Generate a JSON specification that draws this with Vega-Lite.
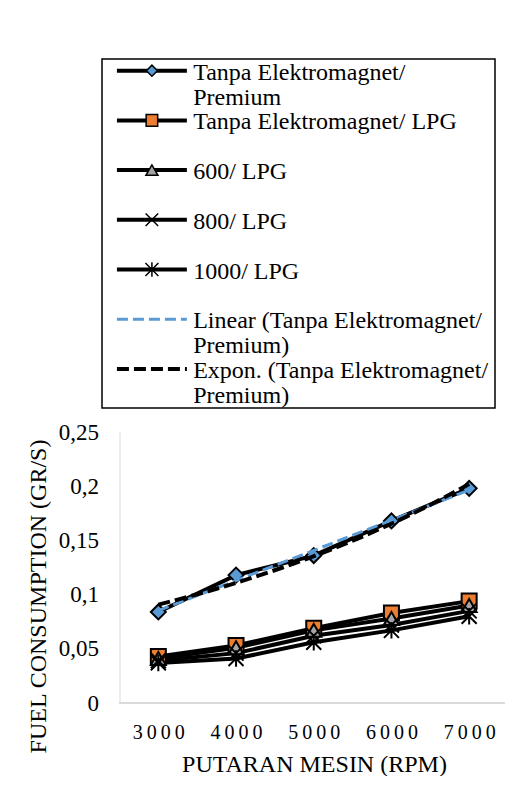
{
  "$schema": "https://vega.github.io/schema/vega-lite/v6.json",
  "background": "white",
  "padding": {"left": 26, "top": 58, "right": 0, "bottom": 0},
  "config": {"font": "Liberation Serif", "view": {"stroke": null}},
  "bounds": "flush",
  "spacing": 24,
  "resolve": {"scale": {"shape": "independent", "fill": "independent", "size": "independent"}},
  "datasets": {
    "fc": [
      {"series": "Tanpa Elektromagnet/ Premium", "rpm": 3000, "fc": 0.084},
      {"series": "Tanpa Elektromagnet/ Premium", "rpm": 4000, "fc": 0.118},
      {"series": "Tanpa Elektromagnet/ Premium", "rpm": 5000, "fc": 0.136},
      {"series": "Tanpa Elektromagnet/ Premium", "rpm": 6000, "fc": 0.168},
      {"series": "Tanpa Elektromagnet/ Premium", "rpm": 7000, "fc": 0.198},
      {"series": "Tanpa Elektromagnet/ LPG", "rpm": 3000, "fc": 0.043},
      {"series": "Tanpa Elektromagnet/ LPG", "rpm": 4000, "fc": 0.053},
      {"series": "Tanpa Elektromagnet/ LPG", "rpm": 5000, "fc": 0.069},
      {"series": "Tanpa Elektromagnet/ LPG", "rpm": 6000, "fc": 0.083},
      {"series": "Tanpa Elektromagnet/ LPG", "rpm": 7000, "fc": 0.094},
      {"series": "600/ LPG", "rpm": 3000, "fc": 0.041},
      {"series": "600/ LPG", "rpm": 4000, "fc": 0.051},
      {"series": "600/ LPG", "rpm": 5000, "fc": 0.067},
      {"series": "600/ LPG", "rpm": 6000, "fc": 0.078},
      {"series": "600/ LPG", "rpm": 7000, "fc": 0.090},
      {"series": "800/ LPG", "rpm": 3000, "fc": 0.039},
      {"series": "800/ LPG", "rpm": 4000, "fc": 0.046},
      {"series": "800/ LPG", "rpm": 5000, "fc": 0.062},
      {"series": "800/ LPG", "rpm": 6000, "fc": 0.072},
      {"series": "800/ LPG", "rpm": 7000, "fc": 0.085},
      {"series": "1000/ LPG", "rpm": 3000, "fc": 0.037},
      {"series": "1000/ LPG", "rpm": 4000, "fc": 0.041},
      {"series": "1000/ LPG", "rpm": 5000, "fc": 0.056},
      {"series": "1000/ LPG", "rpm": 6000, "fc": 0.067},
      {"series": "1000/ LPG", "rpm": 7000, "fc": 0.080}
    ],
    "legend": [
      {"series": "Tanpa Elektromagnet/ Premium", "l1": "Tanpa Elektromagnet/", "l2": "Premium"},
      {"series": "Tanpa Elektromagnet/ LPG", "l1": "Tanpa Elektromagnet/ LPG", "l2": ""},
      {"series": "600/ LPG", "l1": "600/ LPG", "l2": ""},
      {"series": "800/ LPG", "l1": "800/ LPG", "l2": ""},
      {"series": "1000/ LPG", "l1": "1000/ LPG", "l2": ""},
      {"series": "Linear (Tanpa Elektromagnet/ Premium)", "l1": "Linear (Tanpa Elektromagnet/", "l2": "Premium)"},
      {"series": "Expon. (Tanpa Elektromagnet/ Premium)", "l1": "Expon. (Tanpa Elektromagnet/", "l2": "Premium)"}
    ]
  },
  "vconcat": [
    {
      "width": 393,
      "height": 349,
      "view": {"stroke": "black", "strokeWidth": 1.5},
      "data": {"name": "legend"},
      "encoding": {
        "y": {
          "field": "series",
          "type": "nominal",
          "scale": {
            "type": "point",
            "domain": ["Tanpa Elektromagnet/ Premium", "Tanpa Elektromagnet/ LPG", "600/ LPG", "800/ LPG", "1000/ LPG", "Linear (Tanpa Elektromagnet/ Premium)", "Expon. (Tanpa Elektromagnet/ Premium)"],
            "padding": 0.51,
            "align": 0.23
          },
          "axis": null
        }
      },
      "layer": [
        {
          "transform": [{"filter": {"field": "series", "oneOf": ["Tanpa Elektromagnet/ Premium", "Tanpa Elektromagnet/ LPG", "600/ LPG", "800/ LPG", "1000/ LPG"]}}],
          "mark": {"type": "rule", "stroke": "black", "strokeWidth": 4},
          "encoding": {
            "x": {"datum": 3.8, "type": "quantitative", "scale": {"domain": [0, 100]}, "axis": null},
            "x2": {"datum": 21.6}
          }
        },
        {
          "transform": [{"filter": {"field": "series", "equal": "Linear (Tanpa Elektromagnet/ Premium)"}}],
          "mark": {"type": "rule", "stroke": "#5b9bd5", "strokeWidth": 3, "strokeDash": [11, 5]},
          "encoding": {
            "x": {"datum": 3.8, "type": "quantitative"},
            "x2": {"datum": 21.6}
          }
        },
        {
          "transform": [{"filter": {"field": "series", "equal": "Expon. (Tanpa Elektromagnet/ Premium)"}}],
          "mark": {"type": "rule", "stroke": "black", "strokeWidth": 4, "strokeDash": [12, 5]},
          "encoding": {
            "x": {"datum": 3.8, "type": "quantitative"},
            "x2": {"datum": 21.6}
          }
        },
        {
          "transform": [{"filter": {"field": "series", "oneOf": ["Tanpa Elektromagnet/ Premium", "Tanpa Elektromagnet/ LPG", "600/ LPG", "800/ LPG", "1000/ LPG"]}}],
          "mark": {"type": "point", "filled": true, "stroke": "black", "strokeWidth": 1.5, "opacity": 1},
          "encoding": {
            "x": {"datum": 12.7, "type": "quantitative"},
            "shape": {"field": "series", "type": "nominal", "scale": {"domain": ["Tanpa Elektromagnet/ Premium", "Tanpa Elektromagnet/ LPG", "600/ LPG", "800/ LPG", "1000/ LPG"], "range": ["diamond", "square", "triangle-up", "M-1,-1L1,1M-1,1L1,-1", "M-1,-1L1,1M-1,1L1,-1M0,-1.1L0,1.1"]}, "legend": null},
            "fill": {"field": "series", "type": "nominal", "scale": {"domain": ["Tanpa Elektromagnet/ Premium", "Tanpa Elektromagnet/ LPG", "600/ LPG", "800/ LPG", "1000/ LPG"], "range": ["#5b9bd5", "#ed7d31", "#a5a5a5", "black", "black"]}, "legend": null},
            "size": {"field": "series", "type": "ordinal", "scale": {"domain": ["Tanpa Elektromagnet/ Premium", "Tanpa Elektromagnet/ LPG", "600/ LPG", "800/ LPG", "1000/ LPG"], "range": [121, 169, 196, 144, 144]}, "legend": null}
          }
        },
        {
          "mark": {"type": "text", "align": "left", "baseline": "alphabetic", "dy": 9, "fontSize": 24, "color": "black"},
          "encoding": {
            "x": {"datum": 23.2, "type": "quantitative"},
            "text": {"field": "l1"}
          }
        },
        {
          "transform": [{"filter": "datum.l2 != ''"}],
          "mark": {"type": "text", "align": "left", "baseline": "alphabetic", "dy": 34, "fontSize": 24, "color": "black"},
          "encoding": {
            "x": {"datum": 23.2, "type": "quantitative"},
            "text": {"field": "l2"}
          }
        }
      ]
    },
    {
      "width": 406,
      "height": 271,
      "data": {"name": "fc"},
      "encoding": {
        "x": {
          "field": "rpm",
          "type": "quantitative",
          "scale": {"domain": [2275, 7500], "nice": false, "zero": false},
          "axis": {
            "values": [3000, 4000, 5000, 6000, 7000],
            "format": "d",
            "labelExpr": "join(split(datum.label, ''), '\u2009')",
            "domain": false,
            "ticks": false,
            "grid": false,
            "labelFontSize": 20,
            "labelColor": "black",
            "labelPadding": 19.5,
            "title": "PUTARAN MESIN (RPM)",
            "titleFontSize": 24,
            "titleFontWeight": "normal",
            "titleColor": "black",
            "titlePadding": 9.5,
            "titleX": 212
          }
        },
        "y": {
          "field": "fc",
          "type": "quantitative",
          "scale": {"domain": [0, 0.25], "nice": false},
          "axis": {
            "values": [0, 0.05, 0.1, 0.15, 0.2, 0.25],
            "labelExpr": "replace(format(datum.value, '.2~f'), '.', ',')",
            "offset": -17.5,
            "domain": true,
            "domainColor": "#d9d9d9",
            "domainWidth": 1,
            "ticks": false,
            "grid": false,
            "labelFontSize": 23,
            "labelColor": "black",
            "labelPadding": 21,
            "title": "FUEL CONSUMPTION (GR/S)",
            "titleFontSize": 24,
            "titleFontWeight": "normal",
            "titleColor": "black",
            "titlePadding": 7.5,
            "titleY": 164
          }
        }
      },
      "layer": [
        {
          "mark": {"type": "rule", "stroke": "#d9d9d9", "strokeWidth": 1},
          "encoding": {
            "x": {"datum": 2500, "type": "quantitative"},
            "x2": {"datum": 7500},
            "y": {"datum": 0, "type": "quantitative"}
          }
        },
        {
          "mark": {"type": "line", "color": "black", "strokeWidth": 4},
          "encoding": {"detail": {"field": "series"}}
        },
        {
          "mark": {"type": "point", "filled": true, "stroke": "black", "strokeWidth": 2, "opacity": 1},
          "encoding": {
            "shape": {"field": "series", "type": "nominal", "scale": {"domain": ["Tanpa Elektromagnet/ Premium", "Tanpa Elektromagnet/ LPG", "600/ LPG", "800/ LPG", "1000/ LPG"], "range": ["diamond", "square", "triangle-up", "M-1,-1L1,1M-1,1L1,-1", "M-1,-1L1,1M-1,1L1,-1M0,-1.1L0,1.1"]}, "legend": null},
            "fill": {"field": "series", "type": "nominal", "scale": {"domain": ["Tanpa Elektromagnet/ Premium", "Tanpa Elektromagnet/ LPG", "600/ LPG", "800/ LPG", "1000/ LPG"], "range": ["#5b9bd5", "#ed7d31", "#a5a5a5", "black", "black"]}, "legend": null},
            "size": {"field": "series", "type": "ordinal", "scale": {"domain": ["Tanpa Elektromagnet/ Premium", "Tanpa Elektromagnet/ LPG", "600/ LPG", "800/ LPG", "1000/ LPG"], "range": [225, 225, 110, 144, 144]}, "legend": null}
          }
        },
        {
          "transform": [
            {"filter": {"field": "series", "equal": "Tanpa Elektromagnet/ Premium"}},
            {"regression": "fc", "on": "rpm", "method": "linear"}
          ],
          "mark": {"type": "line", "color": "#5b9bd5", "strokeWidth": 3, "strokeDash": [11, 5]}
        },
        {
          "transform": [
            {"filter": {"field": "series", "equal": "Tanpa Elektromagnet/ Premium"}},
            {"regression": "fc", "on": "rpm", "method": "exp"}
          ],
          "mark": {"type": "line", "color": "black", "strokeWidth": 4, "strokeDash": [12, 5]}
        }
      ]
    }
  ]
}
